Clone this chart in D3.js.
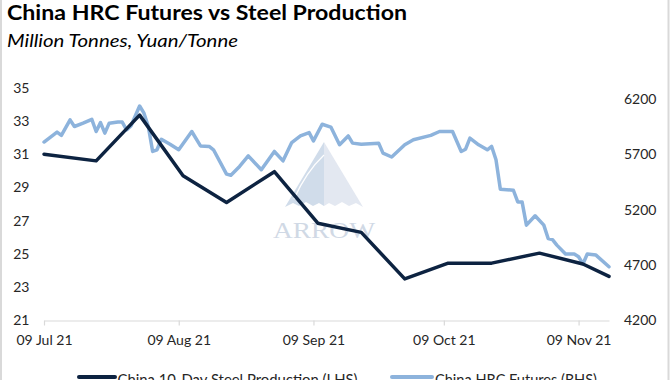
<!DOCTYPE html>
<html><head><meta charset="utf-8">
<script src="https://cdn.jsdelivr.net/npm/d3@7"></script>
<style>
body{margin:0;background:#fff;}
svg{display:block;font-family:Lato,"Open Sans",sans-serif;}
</style>
</head><body>
<svg id="chart" width="670" height="380"></svg>
<script>
// ---------- DATA ----------
const chartTitle = "China HRC Futures vs Steel Production";
const chartSubtitle = "Million Tonnes, Yuan/Tonne";

const steelDates = ["2021-07-09","2021-07-21","2021-07-31","2021-08-10","2021-08-20","2021-08-31",
  "2021-09-10","2021-09-20","2021-09-30","2021-10-10","2021-10-20","2021-10-31","2021-11-10","2021-11-16"];
const steelValues = [31.0, 30.6, 33.35, 29.7, 28.1, 29.95, 26.85, 26.3, 23.5, 24.45, 24.45, 25.05, 24.4, 23.65];

const hrcDates = ["2021-07-09","2021-07-12","2021-07-13","2021-07-15","2021-07-16","2021-07-18","2021-07-20",
  "2021-07-21","2021-07-22","2021-07-23","2021-07-24","2021-07-26","2021-07-27","2021-07-28","2021-07-29",
  "2021-07-31","2021-08-01","2021-08-02","2021-08-03","2021-08-04","2021-08-05","2021-08-07","2021-08-09",
  "2021-08-12","2021-08-14","2021-08-16","2021-08-17","2021-08-20","2021-08-21","2021-08-23","2021-08-25",
  "2021-08-28","2021-08-31","2021-09-02","2021-09-04","2021-09-06","2021-09-08","2021-09-09","2021-09-11",
  "2021-09-13","2021-09-15","2021-09-17","2021-09-18","2021-09-20","2021-09-24","2021-09-25","2021-09-27",
  "2021-09-30","2021-10-02","2021-10-06","2021-10-08","2021-10-11","2021-10-12","2021-10-13","2021-10-14",
  "2021-10-15","2021-10-17","2021-10-19","2021-10-20","2021-10-21","2021-10-22","2021-10-25","2021-10-26",
  "2021-10-27","2021-10-28","2021-10-30","2021-11-01","2021-11-02","2021-11-03","2021-11-04","2021-11-06",
  "2021-11-08","2021-11-09","2021-11-10","2021-11-11","2021-11-13","2021-11-16"];
const hrcValues = [5810,5900,5870,6010,5950,5980,6015,
  5905,5985,5890,5980,5990,5990,5920,5955,
  6135,6070,5950,5725,5740,5835,5790,5740,
  5905,5775,5770,5740,5520,5510,5590,5685,
  5560,5725,5640,5805,5865,5895,5820,5970,
  5945,5785,5865,5800,5790,5800,5710,5675,
  5785,5830,5870,5905,5905,5815,5725,5745,
  5845,5785,5740,5770,5650,5385,5375,5270,
  5270,5060,5145,5060,4940,4930,4880,4800,
  4800,4775,4710,4800,4790,4685];

const xTickDates = ["2021-07-09","2021-08-09","2021-09-09","2021-10-09","2021-11-09"];
const leftTicks = [21,23,25,27,29,31,33,35];
const rightTicks = [4200,4700,5200,5700,6200];
const legendLabels = ["China 10-Day Steel Production (LHS)","China HRC Futures (RHS)"];

// ---------- CHART ----------
const svg = d3.select("#chart");
const parse = d3.utcParse("%Y-%m-%d");
const darkC = "#0d2341", lightC = "#8db3dc", textC = "#262626";

const x = d3.scaleUtc().domain([parse("2021-07-09"), parse("2021-11-16")]).range([44, 609]);
const yL = d3.scaleLinear().domain([21, 35]).range([320.5, 87.7]);
const yR = d3.scaleLinear().domain([4200, 6300]).range([320.5, 87.7]);

function fit(sel, w){
  const len = sel.node().getComputedTextLength();
  if (Math.abs(len - w) > 1) sel.attr("textLength", w).attr("lengthAdjust", "spacingAndGlyphs");
}

// frame lines
svg.append("line").attr("x1",1).attr("x2",1).attr("y1",0).attr("y2",380).attr("stroke","#d9d9d9").attr("stroke-width",2);
svg.append("line").attr("x1",668.5).attr("x2",668.5).attr("y1",0).attr("y2",380).attr("stroke","#d9d9d9").attr("stroke-width",2);

// titles
const t1 = svg.append("text").attr("x",7).attr("y",19.5).attr("font-size",20).attr("font-weight","bold")
  .attr("fill","#000").text(chartTitle);
fit(t1, 400);
const t2 = svg.append("text").attr("x",7).attr("y",47).attr("font-size",17).attr("font-style","italic")
  .attr("fill","#000").text(chartSubtitle);
fit(t2, 231);

// watermark
const wm = svg.append("g").attr("opacity",0.9);
wm.append("path").attr("d","M324,142 L285,207 L293,203 L299,206 L306,202 L313,206 L319,203 L324,206 Z").attr("fill","#ccd9e8");
wm.append("path").attr("d","M324,142 L363,207 L356,203 L349,206 L342,202 L335,206 L329,203 L324,206 Z").attr("fill","#e1e6f0");
wm.append("path").attr("d","M324,155 Q306,172 294,199").attr("fill","none").attr("stroke","#fff").attr("stroke-width",1.2);
const wmt = wm.append("text").attr("x",273).attr("y",238).attr("font-family","'Liberation Serif',serif")
  .attr("font-size",24).attr("fill","#ccd5e3").text("ARROW");
fit(wmt, 102);

// x axis
const xAxis = d3.axisBottom(x).tickValues(xTickDates.map(parse)).tickSize(5).tickSizeOuter(0)
  .tickPadding(10).tickFormat(d3.utcFormat("%d %b %y"));
const gx = svg.append("g").attr("transform","translate(0,320.5)").call(xAxis);
gx.select(".domain").attr("stroke","#d9d9d9").attr("stroke-width",1.2);
gx.selectAll(".tick line").attr("stroke","#d9d9d9").attr("stroke-width",1.2);
gx.selectAll("text").attr("font-size",14).attr("fill",textC).attr("font-family","Lato,sans-serif");

// left axis
const gl = svg.append("g").attr("transform","translate(29.5,0)")
  .call(d3.axisLeft(yL).tickValues(leftTicks).tickSize(0).tickPadding(0).tickFormat(d3.format("d")));
gl.select(".domain").remove();
gl.selectAll("text").attr("font-size",14).attr("fill",textC).attr("font-family","Lato,sans-serif");

// right axis
const gr = svg.append("g").attr("transform","translate(624,0)")
  .call(d3.axisRight(yR).tickValues(rightTicks).tickSize(0).tickPadding(0).tickFormat(d3.format("d")));
gr.select(".domain").remove();
gr.selectAll("text").attr("font-size",14).attr("fill",textC).attr("font-family","Lato,sans-serif");

// lines
const hrc = hrcDates.map((d,i)=>({date:parse(d), v:hrcValues[i]}));
const steel = steelDates.map((d,i)=>({date:parse(d), v:steelValues[i]}));

svg.append("path").datum(hrc)
  .attr("d", d3.line().x(d=>x(d.date)).y(d=>yR(d.v)))
  .attr("fill","none").attr("stroke",lightC).attr("stroke-width",3.5)
  .attr("stroke-linejoin","round").attr("stroke-linecap","round");
svg.append("path").datum(steel)
  .attr("d", d3.line().x(d=>x(d.date)).y(d=>yL(d.v)))
  .attr("fill","none").attr("stroke",darkC).attr("stroke-width",3.5)
  .attr("stroke-linejoin","round").attr("stroke-linecap","round");

// legend (partly cut by the bottom edge, as in the reference)
const legend = [
  {label: legendLabels[0], color: darkC, x1: 79, x2: 115, tx: 117.5, w: 240},
  {label: legendLabels[1], color: lightC, x1: 392, x2: 432, tx: 435, w: 162}
];
legend.forEach(l=>{
  svg.append("line").attr("x1",l.x1).attr("x2",l.x2).attr("y1",377).attr("y2",377)
    .attr("stroke",l.color).attr("stroke-width",4).attr("stroke-linecap","round");
  const t = svg.append("text").attr("x",l.tx).attr("y",384.5).attr("font-size",15).attr("fill",textC).text(l.label);
  fit(t, l.w);
});
</script>
</body></html>
